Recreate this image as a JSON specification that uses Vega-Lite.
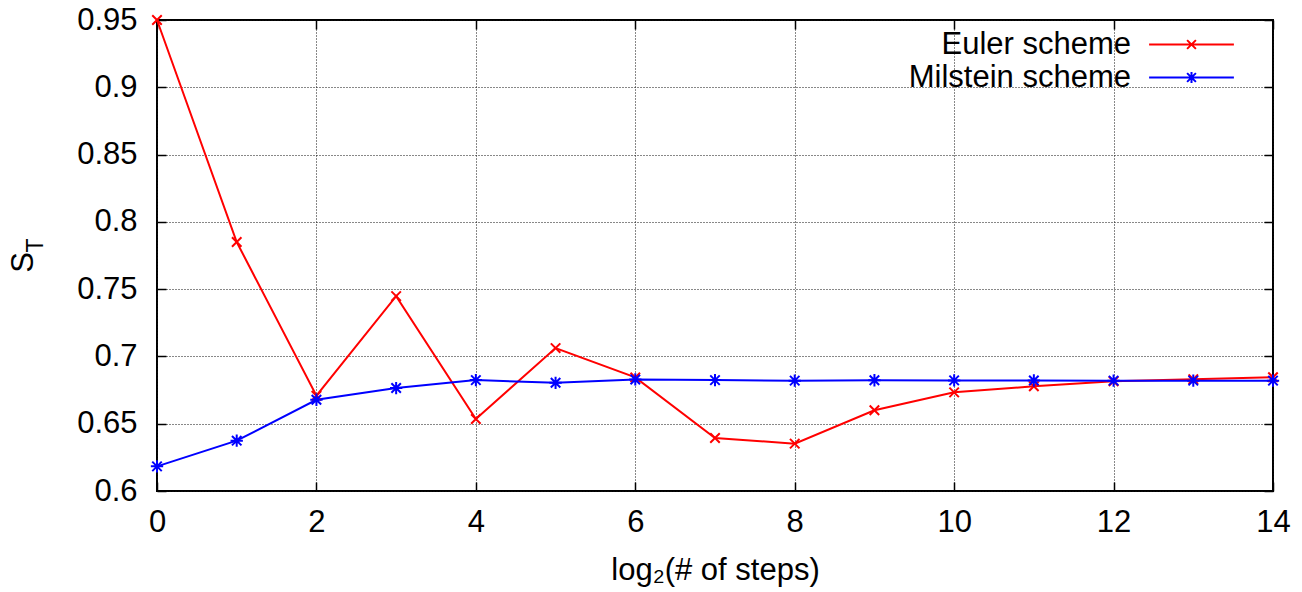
{
  "$schema": "https://vega.github.io/schema/vega-lite/v6.json",
  "width": 1116,
  "height": 471,
  "autosize": {"type": "none"},
  "padding": {"left": 157, "top": 20, "right": 29, "bottom": 101},
  "background": "white",
  "config": {
    "font": "Liberation Sans",
    "view": {"stroke": "black", "strokeWidth": 2},
    "axis": {
      "labelFont": "Liberation Sans",
      "titleFont": "Liberation Sans",
      "labelColor": "black",
      "titleColor": "black",
      "titleFontWeight": "normal",
      "domain": false,
      "tickColor": "black",
      "tickWidth": 1.5,
      "tickSize": -9,
      "gridColor": "#111",
      "gridDash": [1, 2],
      "gridWidth": 1
    }
  },
  "data": {
    "values": [
      {"step": 0, "value": 0.95, "series": "Euler scheme"},
      {"step": 1, "value": 0.785, "series": "Euler scheme"},
      {"step": 2, "value": 0.6708, "series": "Euler scheme"},
      {"step": 3, "value": 0.7448, "series": "Euler scheme"},
      {"step": 4, "value": 0.6535, "series": "Euler scheme"},
      {"step": 5, "value": 0.7062, "series": "Euler scheme"},
      {"step": 6, "value": 0.6844, "series": "Euler scheme"},
      {"step": 7, "value": 0.6394, "series": "Euler scheme"},
      {"step": 8, "value": 0.6352, "series": "Euler scheme"},
      {"step": 9, "value": 0.6600, "series": "Euler scheme"},
      {"step": 10, "value": 0.6733, "series": "Euler scheme"},
      {"step": 11, "value": 0.6778, "series": "Euler scheme"},
      {"step": 12, "value": 0.6815, "series": "Euler scheme"},
      {"step": 13, "value": 0.6830, "series": "Euler scheme"},
      {"step": 14, "value": 0.6845, "series": "Euler scheme"},
      {"step": 0, "value": 0.6183, "series": "Milstein scheme"},
      {"step": 1, "value": 0.6374, "series": "Milstein scheme"},
      {"step": 2, "value": 0.6678, "series": "Milstein scheme"},
      {"step": 3, "value": 0.6765, "series": "Milstein scheme"},
      {"step": 4, "value": 0.6824, "series": "Milstein scheme"},
      {"step": 5, "value": 0.6804, "series": "Milstein scheme"},
      {"step": 6, "value": 0.6829, "series": "Milstein scheme"},
      {"step": 7, "value": 0.6824, "series": "Milstein scheme"},
      {"step": 8, "value": 0.6820, "series": "Milstein scheme"},
      {"step": 9, "value": 0.6823, "series": "Milstein scheme"},
      {"step": 10, "value": 0.6822, "series": "Milstein scheme"},
      {"step": 11, "value": 0.6821, "series": "Milstein scheme"},
      {"step": 12, "value": 0.6820, "series": "Milstein scheme"},
      {"step": 13, "value": 0.6820, "series": "Milstein scheme"},
      {"step": 14, "value": 0.6820, "series": "Milstein scheme"}
    ]
  },
  "resolve": {"axis": {"x": "independent", "y": "independent"}},
  "layer": [
    {
      "mark": {"type": "line", "strokeWidth": 2, "clip": false},
      "encoding": {
        "x": {
          "field": "step", "type": "quantitative",
          "scale": {"domain": [0, 14], "nice": false, "zero": false},
          "axis": {
            "orient": "bottom",
            "values": [0, 2, 4, 6, 8, 10, 12, 14],
            "grid": true,
            "labelFontSize": 31,
            "labelPadding": 25,
            "labelFlush": false,
            "title": "log₂(# of steps)",
            "titleFontSize": 31,
            "titleX": 558,
            "titleY": 88,
            "titleBaseline": "alphabetic"
          }
        },
        "y": {
          "field": "value", "type": "quantitative",
          "scale": {"domain": [0.6, 0.95], "nice": false, "zero": false},
          "axis": {
            "orient": "left",
            "values": [0.6, 0.65, 0.7, 0.75, 0.8, 0.85, 0.9, 0.95],
            "format": ".2~f",
            "grid": true,
            "labelFontSize": 31,
            "labelPadding": 29,
            "labelFlush": false,
            "title": "S",
            "titleFontSize": 31,
            "titleAngle": -90,
            "titleX": -125,
            "titleY": 242,
            "titleAlign": "center",
            "titleBaseline": "alphabetic"
          }
        },
        "color": {
          "field": "series", "type": "nominal",
          "scale": {"domain": ["Euler scheme", "Milstein scheme"], "range": ["#ff0000", "#0000ff"]},
          "legend": {
            "title": null,
            "orient": "none",
            "legendX": 1019,
            "legendY": 9,
            "padding": 0,
            "symbolType": "M-10.6,0H10.6M-1.1,-1.1L1.1,1.1M-1.1,1.1L1.1,-1.1",
            "symbolSize": 64,
            "symbolStrokeWidth": 2,
            "labelFontSize": 31,
            "labelFont": "Liberation Sans",
            "labelColor": "black",
            "labelAlign": "right",
            "labelOffset": -76,
            "labelLimit": 0,
            "rowPadding": 1,
            "encode": {
              "symbols": {
                "update": {
                  "shape": {"signal": "datum.value === 'Euler scheme' ? 'M-10.6,0H10.6M-1.1,-1.1L1.1,1.1M-1.1,1.1L1.1,-1.1' : 'M-10.6,0H10.6M-1.1,-1.1L1.1,1.1M-1.1,1.1L1.1,-1.1M0,-1.4V1.4'"},
                  "fill": {"value": "transparent"},
                  "strokeWidth": {"value": 2}
                }
              }
            }
          }
        }
      }
    },
    {
      "mark": {"type": "point", "filled": false, "size": 90, "strokeWidth": 2, "opacity": 1, "clip": false},
      "encoding": {
        "x": {
          "field": "step", "type": "quantitative",
          "axis": {
            "orient": "top",
            "values": [0, 2, 4, 6, 8, 10, 12, 14],
            "labels": false,
            "grid": false,
            "title": null
          }
        },
        "y": {
          "field": "value", "type": "quantitative",
          "axis": {
            "orient": "right",
            "values": [0.6, 0.65, 0.7, 0.75, 0.8, 0.85, 0.9, 0.95],
            "labels": false,
            "grid": false,
            "title": "T",
            "titleFontSize": 23,
            "titleAngle": -90,
            "titleX": -1231,
            "titleY": 225,
            "titleAlign": "center",
            "titleBaseline": "alphabetic"
          }
        },
        "color": {"field": "series", "type": "nominal"},
        "shape": {
          "condition": {"test": "datum.series === 'Euler scheme'", "value": "M-1,-1L1,1M-1,1L1,-1"},
          "value": "M-1,-1L1,1M-1,1L1,-1M0,-1.3V1.3M-1.3,0H1.3"
        }
      }
    }
  ]
}
